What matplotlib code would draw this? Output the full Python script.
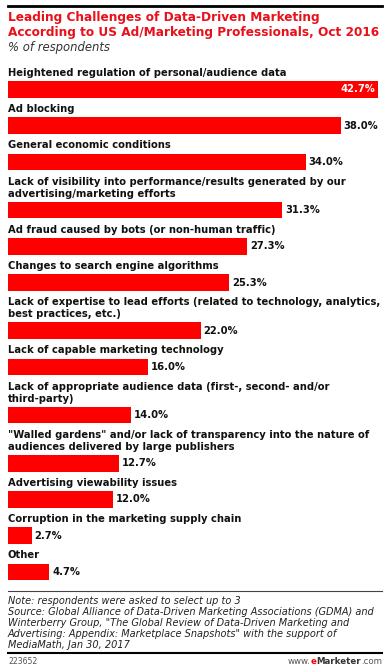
import matplotlib
matplotlib.use('Agg')
import matplotlib.pyplot as plt
from matplotlib.lines import Line2D

categories = [
    'Heightened regulation of personal/audience data',
    'Ad blocking',
    'General economic conditions',
    'Lack of visibility into performance/results generated by our\nadvertising/marketing efforts',
    'Ad fraud caused by bots (or non-human traffic)',
    'Changes to search engine algorithms',
    'Lack of expertise to lead efforts (related to technology, analytics,\nbest practices, etc.)',
    'Lack of capable marketing technology',
    'Lack of appropriate audience data (first-, second- and/or\nthird-party)',
    '"Walled gardens" and/or lack of transparency into the nature of\naudiences delivered by large publishers',
    'Advertising viewability issues',
    'Corruption in the marketing supply chain',
    'Other',
]
values = [42.7, 38.0, 34.0, 31.3, 27.3, 25.3, 22.0, 16.0, 14.0, 12.7, 12.0, 2.7, 4.7]

title_lines = ['Leading Challenges of Data-Driven Marketing',
               'According to US Ad/Marketing Professionals, Oct 2016']
subtitle = '% of respondents'
note_lines = ['Note: respondents were asked to select up to 3',
              'Source: Global Alliance of Data-Driven Marketing Associations (GDMA) and',
              'Winterberry Group, "The Global Review of Data-Driven Marketing and',
              'Advertising: Appendix: Marketplace Snapshots" with the support of',
              'MediaMath, Jan 30, 2017']
chart_id = '223652'

W, H = 386, 670
RED = '#ff0000'

fig = plt.figure(figsize=(W / 100, H / 100), dpi=100)
fig.patch.set_facecolor('white')


def fx(px):
    return px / W


def fy(py):
    return 1 - py / H


# axes in pixel rows, 8.75 px per percent, clipped at x=378
ax = fig.add_axes([fx(8), 0, fx(370), 1])
ax.set_xlim(0, 370 / 8.75)
ax.set_ylim(H, 0)
ax.axis('off')

y = 73.0
for cat, val in zip(categories, values):
    lines = cat.split('\n')
    for i, line in enumerate(lines):
        ax.text(0, y + 12 * i, line, ha='left', va='center',
                fontsize=7.2, fontweight='bold', color='#111111')
    last = y + 12 * (len(lines) - 1)
    by = last + 16.5
    ax.barh(by, val, height=16.5, color=RED, edgecolor='none')
    if val > 40:
        ax.text(42.0, by, f'{val:.1f}%', ha='right', va='center',
                fontsize=7.2, fontweight='bold', color='white')
    else:
        ax.text(val + 0.35, by, f'{val:.1f}%', ha='left', va='center',
                fontsize=7.2, fontweight='bold', color='#111111')
    y = last + 36.2

# title block
fig.add_artist(Line2D([fx(8), fx(382)], [fy(6), fy(6)], color='black', lw=2))
for i, line in enumerate(title_lines):
    fig.text(fx(8), fy(17.5 + 15 * i), line, ha='left', va='center',
             fontsize=8.7, fontweight='bold', color='#e8101a')
fig.text(fx(8), fy(47), subtitle, ha='left', va='center', fontsize=8.4,
         style='italic', color='#333333')

# footer
fig.add_artist(Line2D([fx(8), fx(382)], [fy(591), fy(591)], color='#444444', lw=0.8))
for i, line in enumerate(note_lines):
    fig.text(fx(8), fy(600.5 + 11.2 * i), line, ha='left', va='center',
             fontsize=7.0, style='italic', color='#222222')
fig.add_artist(Line2D([fx(8), fx(382)], [fy(653), fy(653)], color='black', lw=1.5))
fig.text(fx(8), fy(662), chart_id, ha='left', va='center', fontsize=5.6,
         color='#555555')

# www.eMarketer.com, right aligned
renderer = fig.canvas.get_renderer()
parts = [('www.', '#555555', 'normal'), ('e', RED, 'bold'),
         ('Marketer', '#333333', 'bold'), ('.com', '#555555', 'normal')]
texts = [fig.text(0, fy(662), s, ha='left', va='center', fontsize=6.2,
                  color=c, fontweight=w) for s, c, w in parts]
widths = [t.get_window_extent(renderer).width for t in texts]
x = 382 - sum(widths)
for t, w in zip(texts, widths):
    t.set_x(fx(x))
    x += w

fig.savefig('out.png', dpi=100)
